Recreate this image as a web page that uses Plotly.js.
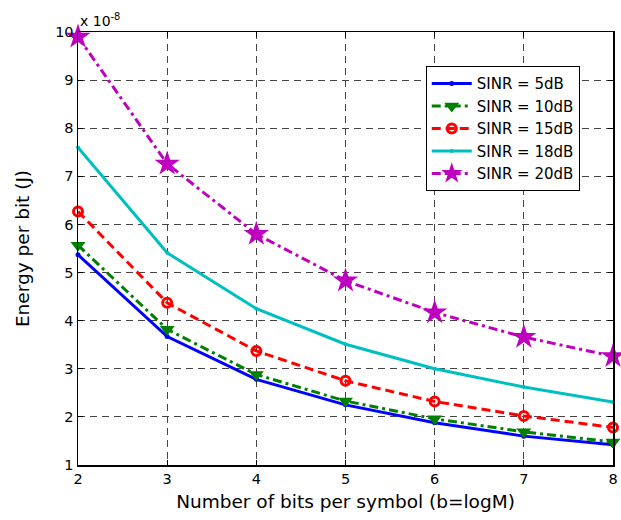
<!DOCTYPE html>
<html>
<head>
<meta charset="utf-8">
<script src="https://cdn.plot.ly/plotly-3.0.1.min.js"></script>
<style>html,body{margin:0;padding:0;background:#fff;}#chart{width:621px;height:520px;}</style>
</head>
<body>
<div id="chart"></div>
<script>
const bits = [2, 3, 4, 5, 6, 7, 8];
const sinr5 = [5.37, 3.67, 2.78, 2.25, 1.88, 1.60, 1.42];
const sinr10 = [5.57, 3.82, 2.88, 2.33, 1.96, 1.69, 1.48];
const sinr15 = [6.27, 4.37, 3.37, 2.75, 2.32, 2.02, 1.78];
const sinr18 = [7.60, 5.41, 4.25, 3.51, 3.00, 2.62, 2.31];
const sinr20 = [9.90, 7.26, 5.80, 4.83, 4.17, 3.66, 3.26];
const seriesNames = ['SINR = 5dB', 'SINR = 10dB', 'SINR = 15dB', 'SINR = 18dB', 'SINR = 20dB'];
const xTicks = [2, 3, 4, 5, 6, 7, 8];
const yTicks = [1, 2, 3, 4, 5, 6, 7, 8, 9, 10];

const font = 'DejaVu Sans, Liberation Sans, Arial, sans-serif';
const traces = [
  {x: bits, y: sinr5, name: seriesNames[0], mode: 'lines+markers', cliponaxis: false,
   line: {color: '#0000ff', width: 3, dash: 'solid'},
   marker: {symbol: 'circle', size: 5, color: '#0000ff'}},
  {x: bits, y: sinr10, name: seriesNames[1], mode: 'lines+markers', cliponaxis: false,
   line: {color: '#008000', width: 3, dash: '9px,4px,3px,4px'},
   marker: {symbol: 'triangle-down', size: 13, color: '#008000'}},
  {x: bits, y: sinr15, name: seriesNames[2], mode: 'lines+markers', cliponaxis: false,
   line: {color: '#ff0000', width: 3, dash: '9px,5px'},
   marker: {symbol: 'circle-open', size: 9, color: '#ff0000', line: {width: 3, color: '#ff0000'}}},
  {x: bits, y: sinr18, name: seriesNames[3], mode: 'lines+markers', cliponaxis: false,
   line: {color: '#00bfbf', width: 3, dash: 'solid'},
   marker: {symbol: 'circle', size: 4, color: '#00bfbf'}},
  {x: bits, y: sinr20, name: seriesNames[4], mode: 'lines+markers', cliponaxis: false,
   line: {color: '#bf00bf', width: 3, dash: '9px,4px,3px,4px'},
   marker: {symbol: 'star', size: 19, color: '#bf00bf'}}
];

const axisCommon = {
  showline: true, linecolor: '#000', linewidth: 1.5, mirror: 'ticks',
  ticks: 'inside', ticklen: 5, tickcolor: '#000',
  showgrid: true, gridcolor: '#444', gridwidth: 1, griddash: '7px,5px',
  zeroline: false, tickfont: {family: font, size: 14.5, color: '#000'}
};

const layout = {
  width: 621, height: 520,
  margin: {l: 78, r: 8, t: 32, b: 55},
  paper_bgcolor: '#fff', plot_bgcolor: '#fff',
  font: {family: font, color: '#000'},
  xaxis: Object.assign({}, axisCommon, {
    range: [2, 8], tickvals: xTicks, ticktext: xTicks.map(String),
    title: {text: 'Number of bits per symbol (b=logM)', font: {family: font, size: 18.5, color: '#000'}, standoff: 9}
  }),
  yaxis: Object.assign({}, axisCommon, {
    range: [1, 10], tickvals: yTicks, ticktext: yTicks.map(String),
    title: {text: 'Energy per bit (J)', font: {family: font, size: 18.5, color: '#000'}, standoff: 20}
  }),
  legend: {
    x: 0.65, y: 0.921, xanchor: 'left', yanchor: 'top',
    bgcolor: '#fff', bordercolor: '#000', borderwidth: 1,
    font: {family: font, size: 15, color: '#000'},
    tracegroupgap: 0, itemwidth: 40
  },
  showlegend: true,
  annotations: [{
    xref: 'paper', yref: 'paper', x: 0, y: 1, xanchor: 'left', yanchor: 'bottom',
    xshift: 0, yshift: 1,
    text: 'x 10<sup>-8</sup>', showarrow: false,
    font: {family: font, size: 14, color: '#000'}
  }]
};

Plotly.newPlot('chart', traces, layout, {displayModeBar: false, staticPlot: true});
</script>
</body>
</html>
